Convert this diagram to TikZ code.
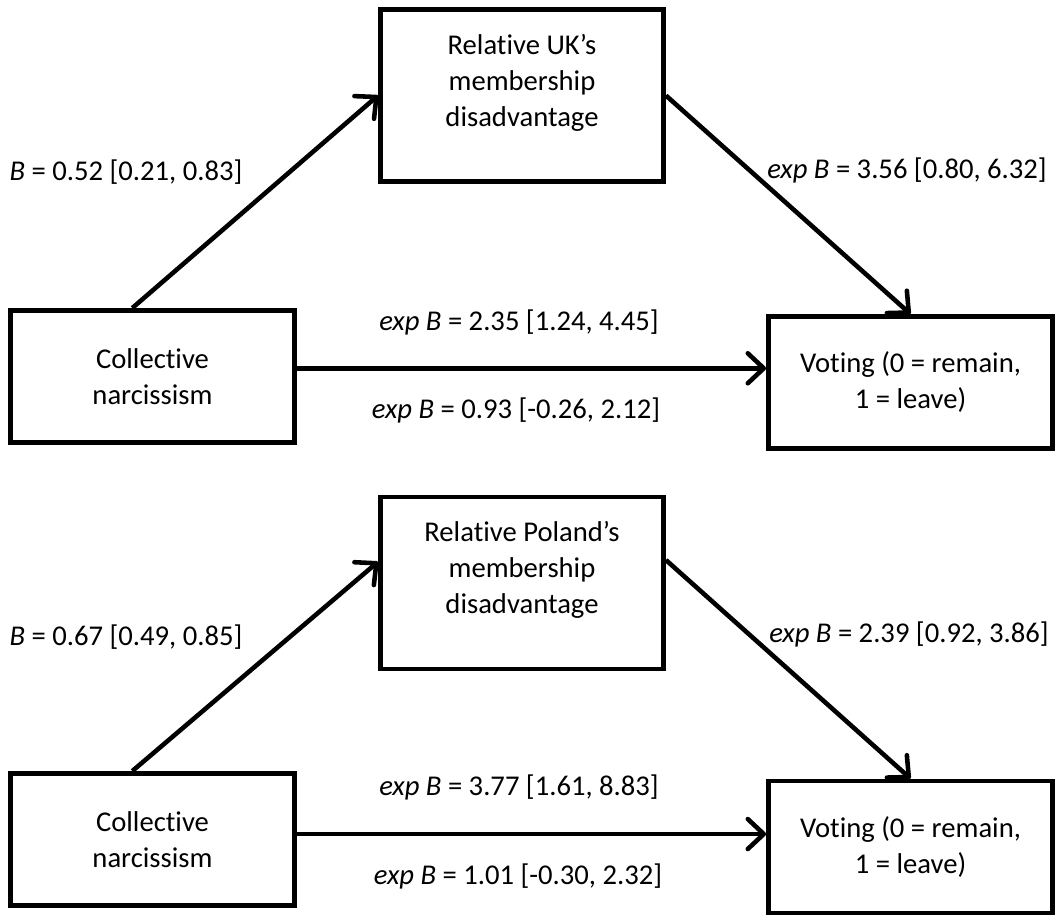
\documentclass[tikz,border=0pt]{standalone}
\usepackage{fontspec}
\setmainfont{Carlito}[Ligatures=NoCommon]
\usetikzlibrary{arrows.meta,calc}
\tikzset{
  box/.style={draw, line width=2.8pt, minimum width=5.68cm, minimum height=2.64cm, align=center, inner sep=0pt},
  medbox/.style={box, minimum width=5.66cm, minimum height=3.44cm},
  arr/.style={line width=2.6pt, -{Straight Barb[length=3.2mm,width=6mm,round]}},
  coef/.style={inner sep=0pt}
}
\begin{document}
\begin{tikzpicture}[x=0.02cm,y=-0.02cm,font=\fontsize{16.3}{20.5}\selectfont]
    \useasboundingbox (0,0) rectangle (1063,924);
    % UK model
    \node[medbox] (M1) at (522,95.5) {};
    \node[align=center] (M1t) at (522,83) {Relative UK’s\\membership\\disadvantage};
    \node[box] (L1) at (152.5,376.5) {Collective\\narcissism};
    \node[box] (R1) at (910.5,382.5) {Voting (0 = remain,\\1 = leave)};
    \coordinate (a1) at ($(L1.north west)!0.43!(L1.north east)$);
    \coordinate (c1) at ($(L1.north east)!0.44!(L1.south east)$);
    \draw[arr] (a1) -- (M1.west);
    \draw[arr] (M1.east) -- (R1.north);
    \draw[arr] (c1) -- (R1.west |- c1);
    \node[coef] (p1) at (126,172) {\textit{B} = 0.52 [0.21, 0.83]};
    \node[coef] (q1) at (907,170) {\textit{exp B} = 3.56 [0.80, 6.32]};
    \node[coef] (t1) at (519,322) {\textit{exp B} = 2.35 [1.24, 4.45]};
    \node[coef] (d1) at (516,410) {\textit{exp B} = 0.93 [-0.26, 2.12]};
    % Poland model
    \node[medbox] (M2) at (522,583) {};
    \node[align=center] (M2t) at (522,570) {Relative Poland’s\\membership\\disadvantage};
    \node[box] (L2) at (152.5,839.5) {Collective\\narcissism};
    \node[box] (R2) at (910.5,847) {Voting (0 = remain,\\1 = leave)};
    \coordinate (a2) at ($(L2.north west)!0.43!(L2.north east)$);
    \coordinate (b2) at ($(M2.north west)!0.38!(M2.south west)$);
    \coordinate (e2) at ($(M2.north east)!0.37!(M2.south east)$);
    \coordinate (c2) at ($(L2.north east)!0.46!(L2.south east)$);
    \draw[arr] (a2) -- (b2);
    \draw[arr] (e2) -- (R2.north);
    \draw[arr] (c2) -- (R2.west |- c2);
    \node[coef] (p2) at (126,637) {\textit{B} = 0.67 [0.49, 0.85]};
    \node[coef] (q2) at (909,634) {\textit{exp B} = 2.39 [0.92, 3.86]};
    \node[coef] (t2) at (519,787) {\textit{exp B} = 3.77 [1.61, 8.83]};
    \node[coef] (d2) at (518,876) {\textit{exp B} = 1.01 [-0.30, 2.32]};
\end{tikzpicture}
\end{document}
